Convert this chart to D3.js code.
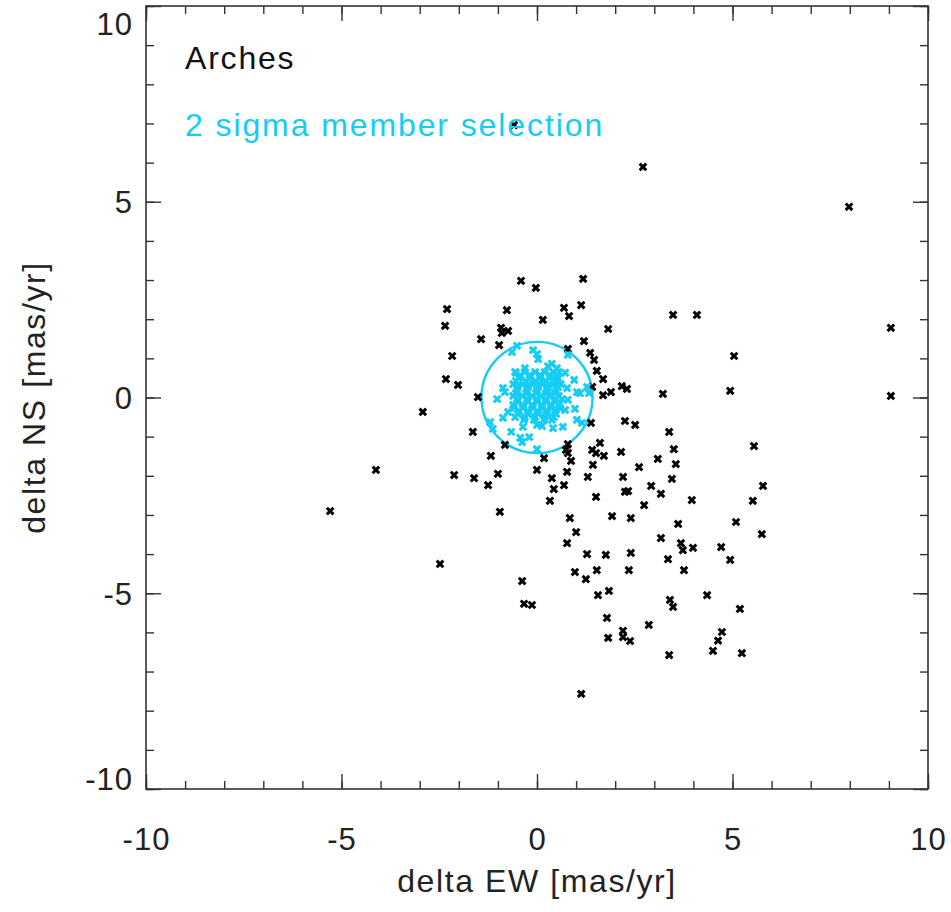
<!DOCTYPE html>
<html>
<head>
<meta charset="utf-8">
<script src="https://cdn.jsdelivr.net/npm/d3@7"></script>
<style>
  body { margin: 0; background: #fff; }
  svg { display: block; }
</style>
</head>
<body>
<div id="chart"></div>
<script>
// Settings
const SIZE = [951, 912]
const MARGIN = {top: 6, right: 23, bottom: 123, left: 146}
const FONT = "'Liberation Sans', Arial, Helvetica, sans-serif"
const AXIS_COLOR = "#333"
const CYAN = "#14cdf5"

// Data (mas/yr)
const majorTicks = [-10, -5, 0, 5, 10]
const minorTicks = d3.range(-10, 11)
const memberRadius = 1.42

const fieldX = [2.71, -0.59, 7.98, 9.05, 9.05, -0.41, -0.03, 1.18, -2.30, -0.77,
  0.69, 1.13, 0.82, 0.15, -2.35, -0.92, -0.74, -0.90, 1.82, -1.43,
  -0.97, 1.20, 0.79, 1.36, 1.46, -2.17, 1.53, 1.69, -2.33, -2.02,
  2.17, 2.30, 1.89, 1.69, 1.41, -1.51, -2.92, 1.38, 2.25, 2.51,
  -1.64, 1.61, -0.82, 0.79, 1.41, 1.51, 1.71, 2.15, 0.74, 0.79,
  -1.18, 0.18, 0.87, 1.43, -4.12, -2.12, -1.61, -1.00, 0.00, 0.77,
  0.38, 1.30, 2.20, 2.61, -1.25, 0.43, 0.69, 2.25, 2.33, 1.51,
  0.33, -5.29, -0.95, 0.84, 1.92, 2.40, 3.48, 4.09, 5.04, 3.22,
  4.94, 3.38, 5.55, 3.50, 3.09, 3.55, 3.45, 5.78, 2.92, 3.17,
  3.96, 5.52, 2.74, 3.61, 5.09, 1.00, 0.77, 5.75, 3.17, 3.68,
  3.73, 3.99, 4.71, 1.28, 1.76, 2.40, 3.35, 4.94, 0.97, 1.53,
  2.35, 3.76, 1.25, -0.38, 1.56, 1.84, 4.35, 3.40, 3.48, 5.19,
  -0.33, -0.13, 1.79, 2.86, 4.73, 2.20, 2.20, 1.82, 2.38, 4.63,
  4.50, 5.24, 3.38, 1.13, -2.48]
const fieldY = [5.89, 6.96, 4.87, 1.78, 0.04, 2.98, 2.80, 3.03, 2.26, 2.23,
  2.29, 2.36, 2.08, 1.98, 1.83, 1.78, 1.70, 1.65, 1.75, 1.49,
  1.34, 1.44, 1.24, 1.14, 0.96, 1.06, 0.68, 0.47, 0.47, 0.32,
  0.29, 0.22, 0.14, 0.06, 0.27, 0.01, -0.37, -0.65, -0.60, -0.70,
  -0.88, -1.16, -1.21, -1.19, -1.34, -1.42, -1.49, -1.39, -1.34, -1.42,
  -1.49, -1.55, -1.62, -1.72, -1.85, -1.98, -2.06, -1.95, -1.85, -1.90,
  -2.06, -2.03, -2.03, -1.78, -2.24, -2.34, -2.24, -2.41, -2.39, -2.54,
  -2.64, -2.90, -2.92, -3.08, -3.03, -3.08, 2.11, 2.11, 1.06, 0.09,
  0.17, -0.88, -1.24, -1.32, -1.57, -1.70, -2.08, -2.26, -2.26, -2.46,
  -2.62, -2.64, -2.75, -3.23, -3.18, -3.44, -3.72, -3.49, -3.59, -3.72,
  -3.90, -3.84, -3.82, -4.00, -4.02, -3.97, -4.13, -4.15, -4.46, -4.41,
  -4.41, -4.41, -4.64, -4.69, -5.05, -4.94, -5.05, -5.17, -5.35, -5.40,
  -5.27, -5.30, -5.63, -5.81, -5.99, -5.96, -6.12, -6.14, -6.22, -6.21,
  -6.47, -6.53, -6.58, -7.57, -4.25]

// 2 sigma members: outliers first, then the dense core read row by row
const memberX = [-0.51, -0.64, -0.10, 0.00, 0.03, 0.79, 0.38, 0.56, 0.72, -0.54,
  0.95, -0.87, -0.82, 0.77, 1.02, 1.10, 1.28, 1.33, -1.02, 0.79,
  0.72, 0.97, -0.74, -0.87, -1.20, -1.13, -0.66, -0.36, 0.00, 0.13,
  0.41, 0.66, 1.02, 1.15, -0.43, -0.38, -0.20, 0.00,
  -0.31, 0.28, 0.51,
  -0.56, -0.31, -0.05, 0.20, 0.41,
  -0.43, -0.18, 0.08, 0.33, 0.51,
  -0.46, -0.18, 0.08, 0.33, 0.54,
  -0.54, -0.28, -0.03, 0.23, 0.49,
  -0.61, -0.36, -0.10, 0.15, 0.41, 0.61,
  -0.49, -0.23, 0.03, 0.28, 0.54,
  -0.51, -0.26, 0.00, 0.26, 0.49,
  -0.54, -0.28, -0.03, 0.23, 0.46,
  -0.61, -0.38, -0.13, 0.10, 0.33, 0.56,
  -0.51, -0.26, 0.00, 0.23, 0.46, 0.64,
  -0.49, -0.23, 0.00, 0.23, 0.46,
  -0.61, -0.36, -0.13, 0.13, 0.36, 0.56,
  -0.59, -0.36, -0.10, 0.13, 0.36, 0.59,
  -0.46, -0.23, 0.00, 0.23, 0.46,
  -0.49, -0.23, 0.03, 0.26, 0.49,
  -0.56, -0.31, -0.05, 0.20, 0.43,
  -0.33, -0.08, 0.18, 0.38]
const memberY = [1.32, 1.16, 1.21, 1.11, 0.98, 1.09, 0.86, 0.65, 0.63, 0.63,
  0.45, 0.24, 0.14, 0.24, 0.14, 0.11, 0.27, 0.11, -0.04, -0.06,
  -0.32, -0.29, -0.37, -0.52, -0.63, -0.80, -0.88, -0.75, -0.70, -0.73,
  -0.78, -0.75, -0.57, -0.65, -1.03, -1.14, -1.01, -1.32,
  0.75, 0.80, 0.75,
  0.65, 0.65, 0.65, 0.65, 0.65,
  0.57, 0.57, 0.57, 0.57, 0.57,
  0.50, 0.50, 0.50, 0.50, 0.50,
  0.42, 0.42, 0.42, 0.42, 0.42,
  0.34, 0.34, 0.34, 0.34, 0.34, 0.34,
  0.27, 0.27, 0.27, 0.27, 0.27,
  0.19, 0.19, 0.19, 0.19, 0.19,
  0.11, 0.11, 0.11, 0.11, 0.11,
  0.04, 0.04, 0.04, 0.04, 0.04, 0.04,
  -0.04, -0.04, -0.04, -0.04, -0.04, -0.04,
  -0.11, -0.11, -0.11, -0.11, -0.11,
  -0.19, -0.19, -0.19, -0.19, -0.19, -0.19,
  -0.27, -0.27, -0.27, -0.27, -0.27, -0.27,
  -0.34, -0.34, -0.34, -0.34, -0.34,
  -0.42, -0.42, -0.42, -0.42, -0.42,
  -0.50, -0.50, -0.50, -0.50, -0.50,
  -0.57, -0.57, -0.57, -0.57]

const clusterName = "Arches"
const selectionLabel = "2 sigma member selection"
const xTitle = "delta EW [mas/yr]"
const yTitle = "delta NS [mas/yr]"

function createPlot() {
  const svg = d3.select("#chart").append("svg")
    .attr("width", SIZE[0])
    .attr("height", SIZE[1])
    .attr("font-family", FONT)

  const scaleX = d3.scaleLinear()
    .domain([-10, 10])
    .range([MARGIN.left, SIZE[0] - MARGIN.right])
  const scaleY = d3.scaleLinear()
    .domain([-10, 10])
    .range([SIZE[1] - MARGIN.bottom, MARGIN.top])

  const x0 = MARGIN.left, x1 = SIZE[0] - MARGIN.right
  const y0 = MARGIN.top, y1 = SIZE[1] - MARGIN.bottom

  const styleTicks = g => g
    .call(g => g.select(".domain").remove())
    .call(g => g.selectAll("line").attr("stroke", AXIS_COLOR).attr("stroke-width", 1.4))

  // ticks point inward on all four sides; labels only bottom and left
  const sides = [
    {axis: d3.axisBottom, pos: `translate(0,${y1})`, scale: scaleX, labels: "x"},
    {axis: d3.axisTop, pos: `translate(0,${y0})`, scale: scaleX, labels: null},
    {axis: d3.axisLeft, pos: `translate(${x0},0)`, scale: scaleY, labels: "y"},
    {axis: d3.axisRight, pos: `translate(${x1},0)`, scale: scaleY, labels: null},
  ]
  for (const s of sides) {
    svg.append("g")
      .attr("transform", s.pos)
      .call(s.axis(s.scale).tickValues(minorTicks).tickSize(-8).tickSizeOuter(0).tickFormat(""))
      .call(styleTicks)

    const g = svg.append("g")
      .attr("transform", s.pos)
      .call(s.axis(s.scale).tickValues(majorTicks).tickSize(-15).tickSizeOuter(0)
        .tickFormat(s.labels ? d => String(d) : ""))
      .call(styleTicks)

    const text = g.selectAll(".tick text")
      .attr("font-family", FONT)
      .attr("font-size", 31)
      .attr("letter-spacing", 1)
      .attr("fill", "#222")
    if (s.labels === "x") {
      text.attr("y", 61).attr("dy", 0)
    } else if (s.labels === "y") {
      // IDL keeps the end labels inside the axis range
      text.attr("x", -13)
        .attr("dy", d => d === 10 ? "0.93em" : d === -10 ? "0.01em" : "0.36em")
    }
  }

  // frame
  svg.append("rect")
    .attr("x", x0).attr("y", y0)
    .attr("width", x1 - x0).attr("height", y1 - y0)
    .attr("fill", "none")
    .attr("stroke", AXIS_COLOR)
    .attr("stroke-width", 1.6)

  // selection circle
  svg.append("ellipse")
    .attr("cx", scaleX(0))
    .attr("cy", scaleY(0))
    .attr("rx", scaleX(memberRadius) - scaleX(0))
    .attr("ry", scaleY(0) - scaleY(memberRadius))
    .attr("fill", "none")
    .attr("stroke", CYAN)
    .attr("stroke-width", 2.4)

  const cross = "M-3.3,-3.3L3.3,3.3M-3.3,3.3L3.3,-3.3"

  svg.append("g")
      .attr("stroke", "#000")
      .attr("stroke-width", 3)
    .selectAll("path")
    .data(d3.range(fieldX.length))
    .join("path")
      .attr("transform", i => `translate(${scaleX(fieldX[i])},${scaleY(fieldY[i])})`)
      .attr("d", cross)

  svg.append("g")
      .attr("stroke", CYAN)
      .attr("stroke-width", 3)
    .selectAll("path")
    .data(d3.range(memberX.length))
    .join("path")
      .attr("transform", i => `translate(${scaleX(memberX[i])},${scaleY(memberY[i])})`)
      .attr("d", cross)

  // legend text
  svg.append("text")
    .attr("x", 185).attr("y", 69)
    .attr("font-size", 32)
    .attr("letter-spacing", 1.8)
    .attr("fill", "#111")
    .text(clusterName)
  svg.append("text")
    .attr("x", 185).attr("y", 136)
    .attr("font-size", 32)
    .attr("letter-spacing", 1.9)
    .attr("fill", CYAN)
    .text(selectionLabel)

  // axis titles
  svg.append("text")
    .attr("x", (x0 + x1) / 2).attr("y", 892)
    .attr("text-anchor", "middle")
    .attr("font-size", 32)
    .attr("letter-spacing", 1.6)
    .attr("fill", "#222")
    .text(xTitle)
  svg.append("text")
    .attr("transform", `translate(45,${(y0 + y1) / 2}) rotate(-90)`)
    .attr("text-anchor", "middle")
    .attr("font-size", 32)
    .attr("letter-spacing", 1.6)
    .attr("fill", "#222")
    .text(yTitle)
}

createPlot()
</script>
</body>
</html>
